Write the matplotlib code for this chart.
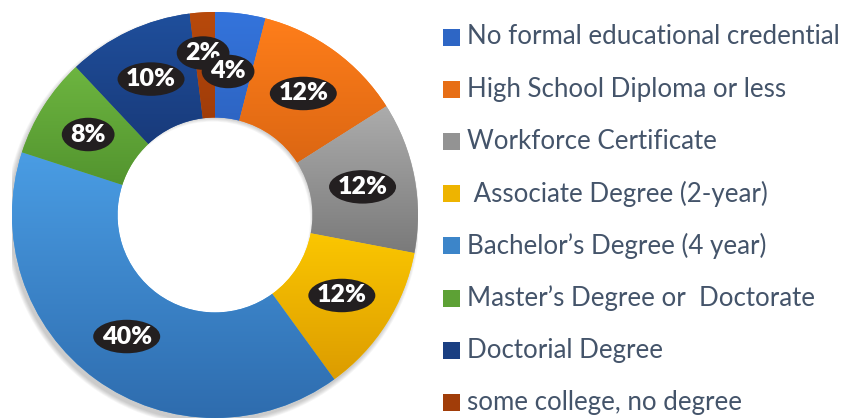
import numpy as np
import matplotlib.pyplot as plt
from matplotlib.patches import Ellipse, Rectangle, Wedge
from matplotlib.colors import to_rgb

categories = [
    "No formal educational credential",
    "High School Diploma or less",
    "Workforce Certificate",
    " Associate Degree (2-year)",
    "Bachelor\u2019s Degree (4 year)",
    "Master\u2019s Degree or  Doctorate",
    "Doctorial Degree",
    "some college, no degree",
]
shares = [4, 12, 12, 12, 40, 8, 10, 2]
labels = [f"{v}%" for v in shares]

top_colors = ["#3474DC", "#FF7E1A", "#ACACAC", "#FFCC00", "#4A9DE4", "#6DB540", "#1F4F9C", "#B84A0C"]
bottom_colors = ["#2858AE", "#CF5E10", "#7A7A7A", "#DC9C00", "#2E6CAE", "#4C8C2A", "#152F68", "#8A3006"]

# small nudges so the crowded labels at the top sit like the original
label_r = [0.71, 0.74, 0.74, 0.74, 0.74, 0.74, 0.74, 0.80]
label_shift = [-2.0, 0, 0, 0, 0, 0, 0, -0.6]

fig = plt.figure(figsize=(8.57, 4.2), dpi=100)
ax = fig.add_axes([12 / 857, 2 / 420, 406 / 857, 406 / 420])

# soft drop shadow, lower left
for k in range(6):
    ax.add_patch(Wedge((-0.012, -0.02), 1.0 + 0.004 * k, 0, 360, width=0.52,
                       facecolor="black", alpha=0.035, linewidth=0, zorder=0))

wedges, _ = ax.pie(shares, startangle=90, counterclock=False, radius=1,
                   colors=top_colors,
                   wedgeprops=dict(width=0.52, linewidth=0))
ax.set_aspect("equal")
ax.axis("off")

# vertical gradient on every slice
for w, c1, c2 in zip(wedges, top_colors, bottom_colors):
    v = w.get_path().vertices
    x0, x1 = v[:, 0].min(), v[:, 0].max()
    y0, y1 = v[:, 1].min(), v[:, 1].max()
    t = np.linspace(0, 1, 256)[:, None, None]
    grad = (1 - t) * np.array(to_rgb(c1)) + t * np.array(to_rgb(c2))
    im = ax.imshow(grad, extent=(x0, x1, y0, y1), origin="upper",
                   aspect="auto", zorder=2, interpolation="bilinear")
    im.set_clip_path(w)
ax.set_xlim(-1, 1)
ax.set_ylim(-1, 1)

# percentage labels in black ovals
cum = np.cumsum([0] + shares[:-1])
for i, (s, lab) in enumerate(zip(shares, labels)):
    mid = (cum[i] + s / 2) / sum(shares) * 360 + label_shift[i]
    th = np.deg2rad(90 - mid)
    x, y = label_r[i] * np.cos(th), label_r[i] * np.sin(th)
    z = 6 if i == 0 else 4
    wid = 0.33 if len(lab) == 3 else 0.26
    ax.add_patch(Ellipse((x, y), wid, 0.165, facecolor="#231F20", edgecolor="none", zorder=z))
    ax.text(x, y, lab, ha="center", va="center", color="white", fontsize=18,
            fontweight="heavy", family="Lato", zorder=z + 0.5)

# legend
for i, (name, c1, c2) in enumerate(zip(categories, top_colors, bottom_colors)):
    yc = 37 + i * 52.2
    mix = tuple((np.array(to_rgb(c1)) + np.array(to_rgb(c2))) / 2)
    fig.patches.append(Rectangle((443 / 857, 1 - (yc + 8.5) / 420), 17 / 857, 17 / 420,
                                 transform=fig.transFigure, facecolor=mix, edgecolor="none"))
    fig.text(467 / 857, 1 - yc / 420, name, ha="left", va="center",
             color="#44546A", fontsize=18.6, family="Lato")

fig.savefig("out.png", dpi=100)
